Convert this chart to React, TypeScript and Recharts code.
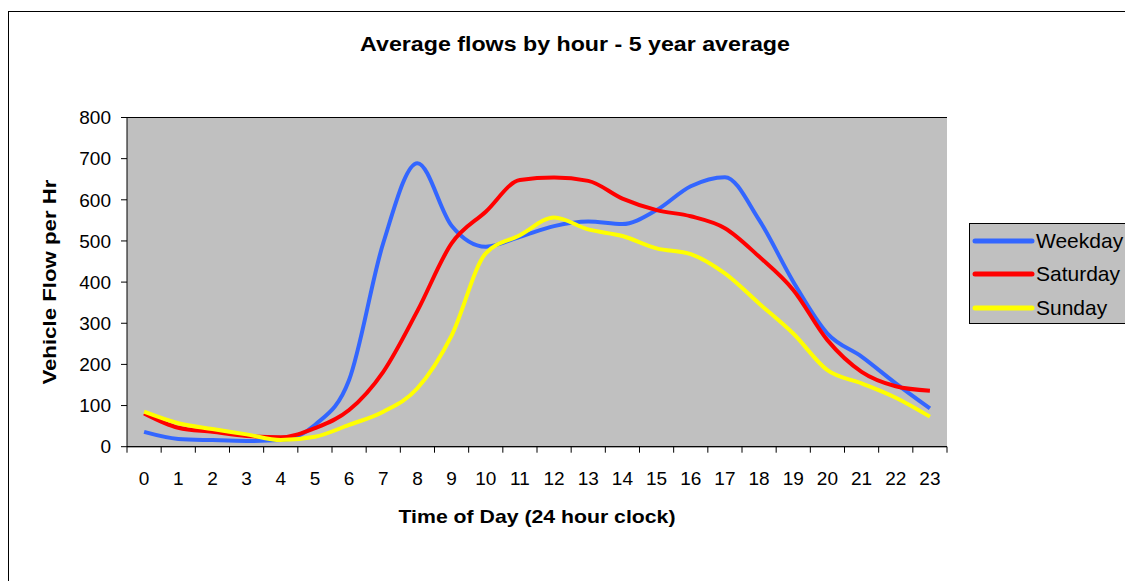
import { LineChart, Line, XAxis, YAxis, CartesianGrid, Legend } from 'recharts';

const hours = [0, 1, 2, 3, 4, 5, 6, 7, 8, 9, 10, 11, 12, 13, 14, 15, 16, 17, 18, 19, 20, 21, 22, 23];
const weekday = [36, 19, 16, 14, 16, 53, 162, 495, 689, 537, 486, 510, 536, 547, 541, 575, 633, 655, 551, 401, 275, 219, 154, 93];
const saturday = [81, 46, 36, 26, 23, 45, 89, 182, 330, 494, 571, 648, 654, 646, 603, 575, 560, 531, 462, 381, 259, 182, 147, 136];
const sunday = [85, 57, 43, 30, 16, 24, 53, 85, 142, 270, 470, 514, 557, 528, 512, 482, 468, 421, 348, 275, 186, 154, 119, 73];
const yTicks = [0, 100, 200, 300, 400, 500, 600, 700, 800];

const series = [
  { key: 'weekday', name: 'Weekday', color: '#3366FF' },
  { key: 'saturday', name: 'Saturday', color: '#FF0000' },
  { key: 'sunday', name: 'Sunday', color: '#FFFF00' },
];

const data = hours.map((h, i) => ({
  hour: h,
  weekday: weekday[i],
  saturday: saturday[i],
  sunday: sunday[i],
}));

const FONT = '"Liberation Sans", Arial, sans-serif';

function HourTick(props: any) {
  const { x, y, payload, index, width } = props;
  const half = width / 48;
  return (
    <g>
      <line x1={x - half} y1={y} x2={x - half} y2={y + 6} stroke="#000" />
      {index === hours.length - 1 && <line x1={x + half} y1={y} x2={x + half} y2={y + 6} stroke="#000" />}
      <text x={x} y={y + 38} textAnchor="middle" fontSize={19} fontFamily={FONT} fill="#000">
        {payload.value}
      </text>
    </g>
  );
}

function LegendBox() {
  return (
    <div
      style={{
        width: 180,
        height: 101,
        background: '#C0C0C0',
        border: '1px solid #000',
        boxSizing: 'border-box',
        paddingTop: 0,
        fontFamily: FONT,
        fontSize: 21,
      }}
    >
      {series.map((s) => (
        <div key={s.key} style={{ display: 'flex', alignItems: 'center', height: 33.5 }}>
          <svg width={66} height={10}>
            <line x1={5} y1={5} x2={62} y2={5} stroke={s.color} strokeWidth={5} strokeLinecap="round" />
          </svg>
          <span style={{ color: '#000' }}>{s.name}</span>
        </div>
      ))}
    </div>
  );
}

export default function App() {
  return (
    <div style={{ position: 'relative', width: 1125, height: 573, overflow: 'hidden' }}>
      <div
        style={{
          position: 'absolute',
          left: 0,
          top: 3,
          width: 1200,
          height: 700,
          border: '1px solid #000',
        }}
      />
      <div
        style={{
          position: 'absolute',
          left: 0,
          top: 24,
          width: 1134,
          textAlign: 'center',
          fontFamily: FONT,
          fontWeight: 'bold',
          fontSize: 20,
          lineHeight: '24px',
          transform: 'scaleX(1.16)',
          transformOrigin: '567px 12px',
        }}
      >
        Average flows by hour - 5 year average
      </div>
      <LineChart
        width={1125}
        height={573}
        data={data}
        margin={{ top: 109.5, right: 186, bottom: 104.3, left: 0 }}
        style={{ position: 'absolute', left: 0, top: 0 }}
      >
        <CartesianGrid fill="#C0C0C0" stroke="#000" vertical={false} />
        <XAxis
          dataKey="hour"
          type="number"
          domain={[-0.5, 23.5]}
          ticks={hours}
          interval={0}
          height={30}
          tickSize={0}
          tickMargin={0}
          tick={<HourTick />}
          axisLine={{ stroke: '#000' }}
          label={({ viewBox }: any) => (
            <text
              x={viewBox.x + viewBox.width / 2}
              y={viewBox.y + 76}
              textAnchor="middle"
              fontSize={19}
              fontWeight="bold"
              fontFamily={FONT}
              fill="#000"
              textLength={277}
              lengthAdjust="spacingAndGlyphs"
            >
              Time of Day (24 hour clock)
            </text>
          )}
        />
        <YAxis
          yAxisId="left"
          domain={[0, 800]}
          ticks={yTicks}
          width={119}
          tickSize={6}
          tickMargin={10}
          tick={{ fontSize: 19, fontFamily: FONT, fill: '#000' }}
          tickLine={{ stroke: '#000' }}
          axisLine={{ stroke: '#000' }}
          label={({ viewBox }: any) => {
            const cx = viewBox.x + 42;
            const cy = viewBox.y + viewBox.height / 2;
            return (
              <text
                x={cx}
                y={cy}
                transform={`rotate(-90 ${cx} ${cy})`}
                textAnchor="middle"
                dominantBaseline="central"
                fontSize={19}
                fontWeight="bold"
                fontFamily={FONT}
                fill="#000"
                textLength={205}
                lengthAdjust="spacingAndGlyphs"
              >
                Vehicle Flow per Hr
              </text>
            );
          }}
        />
        <YAxis
          yAxisId="right"
          orientation="right"
          domain={[0, 800]}
          width={0}
          tick={false}
          tickLine={false}
          axisLine={{ stroke: '#333' }}
        />
        <Legend
          layout="horizontal"
          verticalAlign="middle"
          align="center"
          content={<LegendBox />}
          wrapperStyle={{ left: 961, top: 215, width: 180 }}
        />
        {series.map((s) => (
          <Line
            key={s.key}
            yAxisId="left"
            type="monotone"
            dataKey={s.key}
            name={s.name}
            stroke={s.color}
            strokeWidth={4}
            dot={false}
            isAnimationActive={false}
          />
        ))}
      </LineChart>
    </div>
  );
}
